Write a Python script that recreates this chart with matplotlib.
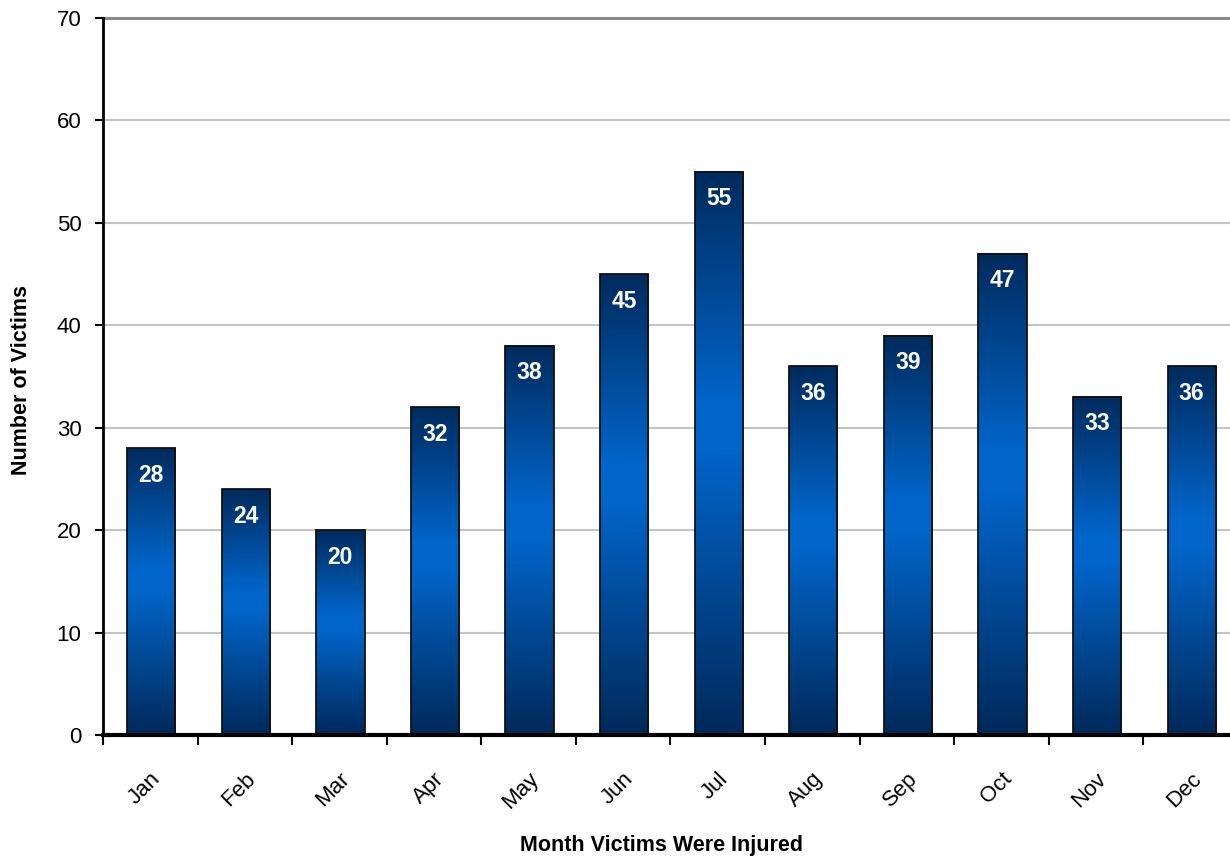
import numpy as np
import matplotlib
matplotlib.use("Agg")
import matplotlib.pyplot as plt
from matplotlib.colors import LinearSegmentedColormap
from matplotlib.ticker import MultipleLocator, FixedLocator

months = ["Jan", "Feb", "Mar", "Apr", "May", "Jun", "Jul", "Aug", "Sep", "Oct", "Nov", "Dec"]
victims = [28, 24, 20, 32, 38, 45, 55, 36, 39, 47, 33, 36]

plt.rcParams['font.family'] = ['Liberation Sans', 'DejaVu Sans']

fig = plt.figure(figsize=(12.3, 8.6), dpi=100)
ax = fig.add_axes([103/1230, 125/860, (1238-103)/1230, (735-18)/860])

x = np.arange(len(months))
bars = ax.bar(x + 0.01, victims, width=0.51, color='none', edgecolor='none', zorder=3)

cmap = LinearSegmentedColormap.from_list(
    "bar", [(0.0, "#00295a"), (0.5, "#0064c8"), (0.58, "#0066cc"), (1.0, "#002b5e")])
grad = np.linspace(0, 1, 256).reshape(-1, 1)

for b in bars:
    x0, y0 = b.get_x(), b.get_y()
    w, h = b.get_width(), b.get_height()
    ax.imshow(grad, cmap=cmap, extent=(x0, x0 + w, y0, y0 + h),
              origin='lower', aspect='auto', zorder=3, interpolation='bicubic')
    ax.add_patch(plt.Rectangle((x0, y0), w, h, fill=False, edgecolor='#111111',
                               linewidth=1.3, zorder=4))
    ax.annotate(f"{int(h)}", (x0 + w / 2, y0 + h), xytext=(0, -27),
                textcoords='offset pixels', ha='center', va='center',
                color='white', fontsize=16.5, fontweight='bold', zorder=5)

ax.set_xlim(-0.5, len(months) - 0.5)
ax.set_ylim(0, 70)
ax.yaxis.set_major_locator(MultipleLocator(10))
ax.grid(axis='y', color='#c4c4c4', linewidth=1.5, zorder=0)
ax.axhline(70, color='#8a8a8a', linewidth=2.2, zorder=2, clip_on=False)

for s in ['top', 'right']:
    ax.spines[s].set_visible(False)
ax.spines['left'].set_linewidth(2)
ax.spines['bottom'].set_linewidth(3)
ax.spines['left'].set_zorder(6)
ax.spines['bottom'].set_zorder(6)

ax.set_xticks(x)
ax.set_xticklabels(months, rotation=45, ha='right', rotation_mode='anchor', fontsize=16)
ax.tick_params(axis='x', which='major', length=0, pad=24)
ax.xaxis.set_minor_locator(FixedLocator(np.arange(-0.5, len(months), 1.0)))
ax.tick_params(axis='x', which='minor', length=7, width=1.5, direction='out')
ax.tick_params(axis='y', length=6, width=1.5, direction='out', labelsize=16, pad=9.5)

fig.text(22/1230, 1 - 380/860, "Number of Victims", rotation=90, ha='center', va='center',
         fontsize=15.5, fontweight='bold')
fig.text(662/1230, 1 - 845/860, "Month Victims Were Injured", ha='center', va='center',
         fontsize=15.5, fontweight='bold')

fig.savefig("out.png", dpi=100)
